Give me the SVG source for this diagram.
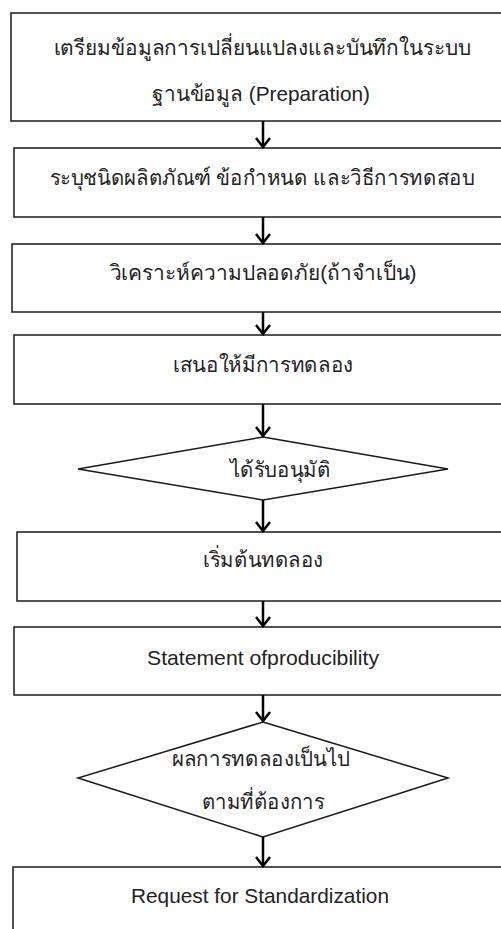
<svg xmlns="http://www.w3.org/2000/svg" width="501" height="929" viewBox="0 0 501 929">
<style>
.box{fill:#fff;stroke:#1a1a1a;stroke-width:1.5}
.t{font-family:"Liberation Sans","Noto Sans",Tahoma,sans-serif;font-size:21px;fill:#222;text-anchor:middle}
.c{stroke:#000;stroke-width:2.5;fill:none}
</style>
<defs>
<marker id="ah" markerUnits="userSpaceOnUse" viewBox="0 0 12 16" refX="10" refY="8" markerWidth="12" markerHeight="16" orient="auto">
<path d="M1,1 L10,8 L1,15" fill="none" stroke="#000" stroke-width="2.5"/>
</marker>
</defs>
<rect width="501" height="929" fill="#fff"/>
<g id="n1"><rect class="box" x="11" y="13" width="520" height="108"/>
<text class="t" x="262" y="55" textLength="417" lengthAdjust="spacingAndGlyphs">เตรียมข้อมูลการเปลี่ยนแปลงและบันทึกในระบบ</text>
<text class="t" x="261" y="101" textLength="218" lengthAdjust="spacingAndGlyphs">ฐานข้อมูล (Preparation)</text></g>
<g id="n2"><rect class="box" x="14" y="148" width="520" height="69"/>
<text class="t" x="262" y="185" textLength="425" lengthAdjust="spacingAndGlyphs">ระบุชนิดผลิตภัณฑ์ ข้อกำหนด และวิธีการทดสอบ</text></g>
<g id="n3"><rect class="box" x="12" y="244" width="520" height="68"/>
<text class="t" x="263" y="280" textLength="307" lengthAdjust="spacingAndGlyphs">วิเคราะห์ความปลอดภัย(ถ้าจำเป็น)</text></g>
<g id="n4"><rect class="box" x="14" y="335" width="520" height="69"/>
<text class="t" x="263" y="372" textLength="180" lengthAdjust="spacingAndGlyphs">เสนอให้มีการทดลอง</text></g>
<g id="n5"><polygon class="box" points="263,437 448,469 263,500 78,469"/>
<text class="t" x="280" y="477" textLength="101" lengthAdjust="spacingAndGlyphs">ได้รับอนุมัติ</text></g>
<g id="n6"><rect class="box" x="17" y="532" width="520" height="69"/>
<text class="t" x="263" y="567" textLength="120" lengthAdjust="spacingAndGlyphs">เริ่มต้นทดลอง</text></g>
<g id="n7"><rect class="box" x="14" y="627" width="520" height="68"/>
<text class="t" x="263" y="665" textLength="232" lengthAdjust="spacingAndGlyphs">Statement ofproducibility</text></g>
<g id="n8"><polygon class="box" points="263,722 448,778 263,837 78,778"/>
<text class="t" x="261" y="766" textLength="178" lengthAdjust="spacingAndGlyphs">ผลการทดลองเป็นไป</text>
<text class="t" x="263" y="809" textLength="123" lengthAdjust="spacingAndGlyphs">ตามที่ต้องการ</text></g>
<g id="n9"><rect class="box" x="13" y="867" width="520" height="80"/>
<text class="t" x="260" y="903" textLength="258" lengthAdjust="spacingAndGlyphs">Request for Standardization</text></g>
<g id="connectors">
<line class="c" x1="263" y1="121" x2="263" y2="147" marker-end="url(#ah)"/>
<line class="c" x1="263" y1="217" x2="263" y2="243" marker-end="url(#ah)"/>
<line class="c" x1="263" y1="312" x2="263" y2="334" marker-end="url(#ah)"/>
<line class="c" x1="263" y1="404" x2="263" y2="436" marker-end="url(#ah)"/>
<line class="c" x1="263" y1="500" x2="263" y2="531" marker-end="url(#ah)"/>
<line class="c" x1="263" y1="601" x2="263" y2="626" marker-end="url(#ah)"/>
<line class="c" x1="263" y1="695" x2="263" y2="721" marker-end="url(#ah)"/>
<line class="c" x1="263" y1="837" x2="263" y2="866" marker-end="url(#ah)"/>
</g>
</svg>
